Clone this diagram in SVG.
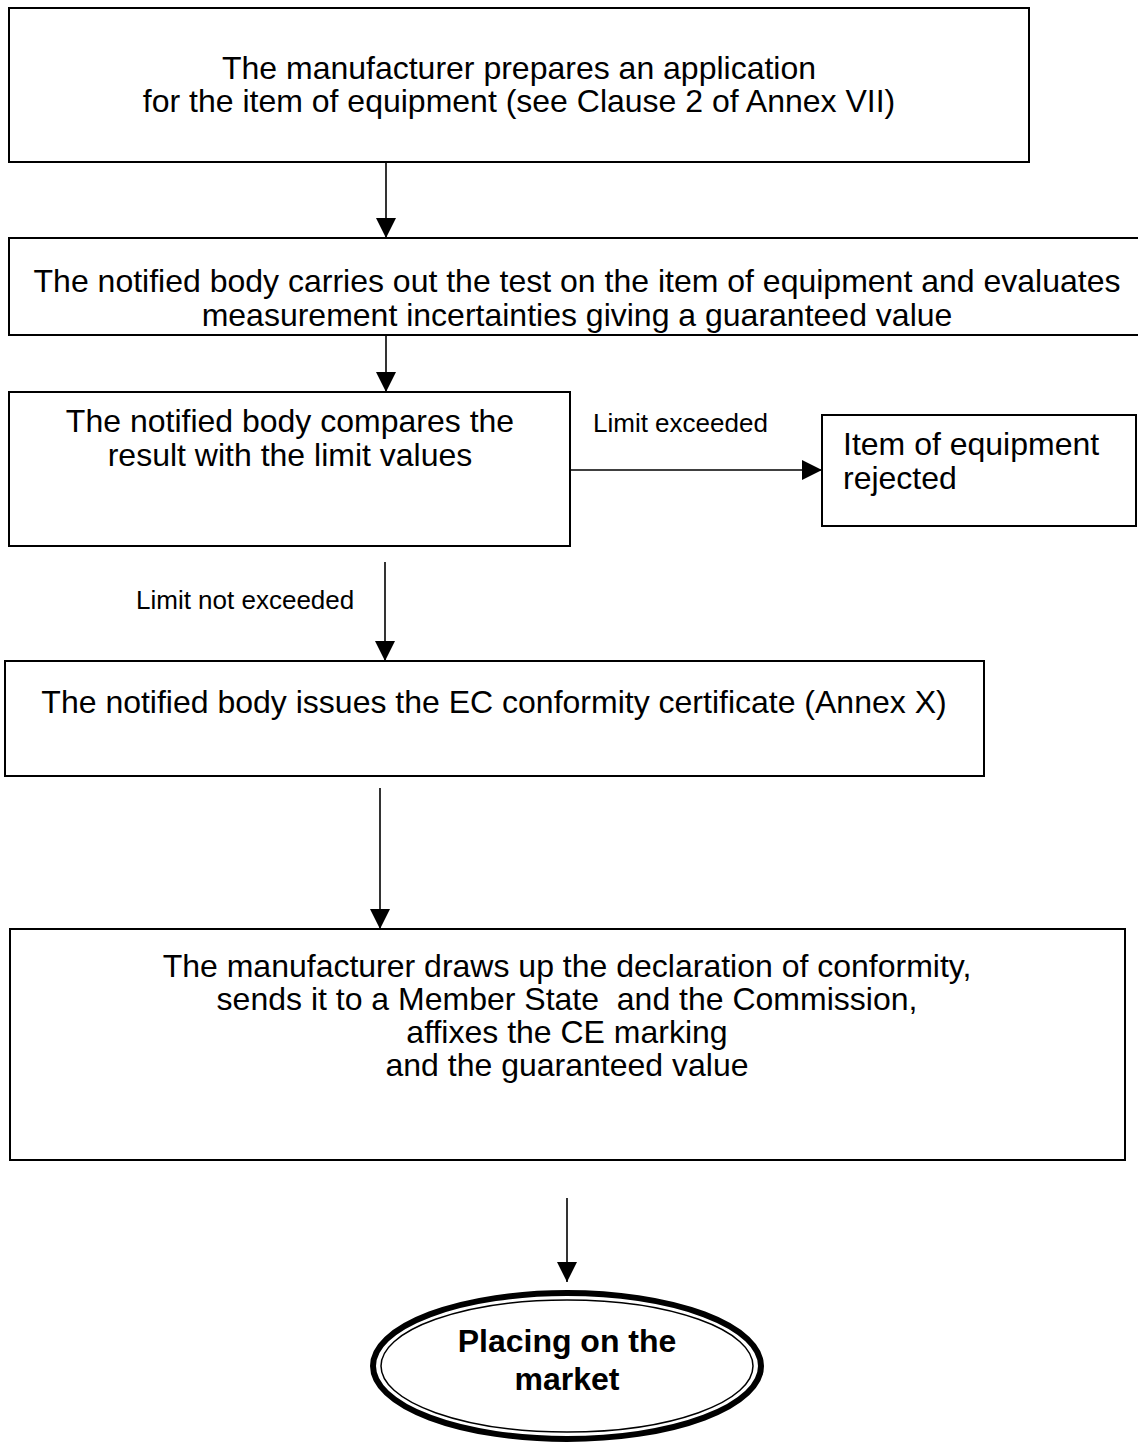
<svg xmlns="http://www.w3.org/2000/svg" width="1138" height="1450" viewBox="0 0 1138 1450">
<defs>
<style>
.box{fill:#fff;stroke:#000;stroke-width:2}
.t{font-family:"Liberation Sans",Arial,sans-serif;font-size:32px;fill:#000;white-space:pre}
.c{text-anchor:middle}
.lbl{font-family:"Liberation Sans",Arial,sans-serif;font-size:26px;fill:#000}
.b{font-weight:bold}
.con{stroke:#000;stroke-width:1.6;fill:none}
</style>
<marker id="ah" markerWidth="20" markerHeight="20" viewBox="0 0 20 20" refX="20" refY="10" orient="auto" markerUnits="userSpaceOnUse">
<path d="M0,0 L20,10 L0,20 Z" fill="#000"/>
</marker>
</defs>
<rect width="1138" height="1450" fill="#fff"/>
<g id="connectors">
<line class="con" x1="386" y1="162" x2="386" y2="238" marker-end="url(#ah)"/>
<line class="con" x1="386" y1="335" x2="386" y2="392" marker-end="url(#ah)"/>
<line class="con" x1="570" y1="470" x2="822" y2="470" marker-end="url(#ah)"/>
<line class="con" x1="385" y1="562" x2="385" y2="661" marker-end="url(#ah)"/>
<line class="con" x1="380" y1="788" x2="380" y2="929" marker-end="url(#ah)"/>
<line class="con" x1="567" y1="1198" x2="567" y2="1282" marker-end="url(#ah)"/>
<text class="lbl" x="593" y="432">Limit exceeded</text>
<text class="lbl" x="136" y="609">Limit not exceeded</text>
</g>
<g id="n1">
<rect class="box" x="9" y="8" width="1020" height="154"/>
<text class="t c" x="519" y="79">The manufacturer prepares an application</text>
<text class="t c" x="519" y="112">for the item of equipment (see Clause 2 of Annex VII)</text>
</g>
<g id="n2">
<rect class="box" x="9" y="238" width="1140" height="97"/>
<text class="t c" x="577" y="292">The notified body carries out the test on the item of equipment and evaluates</text>
<text class="t c" x="577" y="326">measurement incertainties giving a guaranteed value</text>
</g>
<g id="n3">
<rect class="box" x="9" y="392" width="561" height="154"/>
<text class="t c" x="290" y="432">The notified body compares the</text>
<text class="t c" x="290" y="466">result with the limit values</text>
</g>
<g id="n4">
<rect class="box" x="822" y="415" width="314" height="111"/>
<text class="t" x="843" y="455">Item of equipment</text>
<text class="t" x="843" y="489">rejected</text>
</g>
<g id="n5">
<rect class="box" x="5" y="661" width="979" height="115"/>
<text class="t c" x="494" y="713">The notified body issues the EC conformity certificate (Annex X)</text>
</g>
<g id="n6">
<rect class="box" x="10" y="929" width="1115" height="231"/>
<text class="t c" x="567" y="977">The manufacturer draws up the declaration of conformity,</text>
<text class="t c" x="567" y="1010">sends it to a Member State  and the Commission,</text>
<text class="t c" x="567" y="1043">affixes the CE marking</text>
<text class="t c" x="567" y="1076">and the guaranteed value</text>
</g>
<g id="n7">
<ellipse cx="567" cy="1366" rx="194" ry="73" fill="#fff" stroke="#000" stroke-width="6"/>
<ellipse cx="567" cy="1366" rx="186" ry="66" fill="none" stroke="#000" stroke-width="1.5"/>
<text class="t c b" x="567" y="1352">Placing on the</text>
<text class="t c b" x="567" y="1390">market</text>
</g>
</svg>
